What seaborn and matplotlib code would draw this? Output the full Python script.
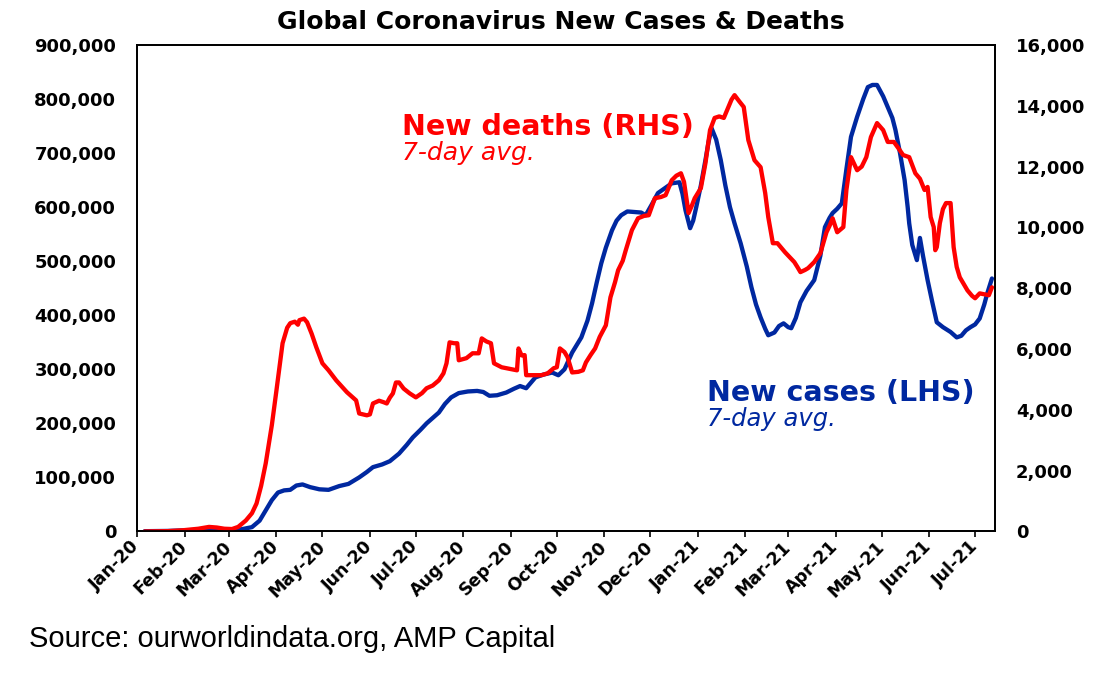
import matplotlib
matplotlib.use("Agg")
import matplotlib.pyplot as plt
import matplotlib.dates as mdates
import matplotlib.ticker as mticker
import numpy as np
import pandas as pd
import seaborn as sns

# ── Data ─────────────────────────────────────────────────────────────────────
# days counted from 1 Jan 2020, cases in thousands (7-day avg)
case_days = [5, 20, 35, 45, 50, 57, 62, 68, 75, 80, 84, 88, 92, 96, 100, 104,
             108, 113, 119, 125, 132, 138, 145, 150, 154, 160, 165, 171, 176,
             180, 185, 189, 193, 197, 201, 205, 210, 216, 222, 226, 230, 235,
             241, 246, 250, 254, 260, 265, 271, 275, 279, 284, 287, 290, 294,
             297, 300, 303, 306, 310, 313, 316, 320, 325, 329, 332, 336, 340,
             345, 349, 354, 356, 358, 361, 363, 365, 368, 371, 373, 375, 378,
             381, 384, 387, 390, 394, 398, 401, 404, 407, 410, 412, 416, 419,
             422, 425, 427, 430, 433, 437, 442, 446, 449, 452, 454, 457, 460,
             463, 466, 470, 474, 477, 480, 483, 487, 490, 493, 495, 498, 501,
             503, 504, 506, 509, 511, 513, 516, 519, 522, 526, 531, 535, 538,
             541, 544, 547, 550, 553, 555, 558]
case_k = [0.5, 1, 2.5, 3, 2, 1.5, 2, 4, 8, 20, 39, 58, 72, 76, 77, 85,
          87, 82, 78, 77, 84, 88, 100, 110, 119, 124, 130, 144, 160,
          174, 188, 200, 210, 220, 236, 248, 256, 259, 260, 258, 251, 252,
          257, 264, 269, 265, 285, 290, 294, 289, 300, 331, 345, 359, 390,
          422, 460, 496, 525, 557, 575, 585, 592, 591, 590, 585, 605, 626,
          636, 644, 646, 625, 594, 561, 575, 600, 640, 687, 720, 746, 725,
          687, 640, 600, 570, 533, 490, 452, 420, 396, 375, 363, 368, 380,
          385, 378, 376, 395, 424, 445, 465, 510, 563, 580, 589, 597, 607,
          670, 730, 767, 800, 822, 826, 826, 805, 785, 765, 743, 700, 650,
          600, 570, 530, 502, 543, 510, 465, 425, 387, 378, 369, 359, 362,
          372, 378, 383, 394, 420, 441, 468]

# deaths (7-day avg)
death_days = [5, 20, 30, 40, 47, 52, 57, 62, 66, 71, 75, 78, 81, 84, 88, 91,
              95, 98, 100, 103, 105, 106, 109, 111, 114, 117, 121, 125, 130,
              134, 137, 141, 143, 145, 150, 152, 154, 158, 161, 163, 165, 167,
              169, 171, 174, 178, 182, 186, 189, 193, 197, 200, 202, 204, 207,
              209, 210, 215, 219, 223, 225, 228, 231, 233, 238, 243, 248, 249,
              251, 253, 254, 259, 264, 268, 272, 274, 276, 279, 281, 284, 288,
              291, 293, 296, 299, 302, 306, 309, 312, 314, 317, 319, 323, 327,
              331, 334, 338, 342, 345, 349, 352, 355, 357, 360, 362, 364, 368,
              371, 374, 377, 380, 383, 386, 388, 390, 393, 396, 399, 403, 407,
              410, 412, 415, 418, 423, 429, 431, 433, 436, 438, 442, 446, 450,
              452, 454, 457, 461, 463, 466, 470, 473, 476, 479, 483, 487, 490,
              494, 497, 500, 504, 508, 511, 514, 516, 518, 520, 521, 522, 524,
              526, 528, 531, 533, 535, 537, 540, 542, 545, 547, 550, 553, 556,
              558]
deaths = [0, 10, 40, 90, 150, 130, 90, 80, 150, 360, 600, 920, 1500, 2240,
          3500, 4640, 6190, 6700, 6850, 6900, 6800, 6950, 7000, 6880, 6500,
          6060, 5530, 5300, 4970, 4750, 4580, 4400, 4310, 3880, 3820, 3850,
          4210, 4300, 4250, 4210, 4400, 4540, 4900, 4900, 4700, 4540, 4410,
          4550, 4710, 4800, 4970, 5200, 5530, 6220, 6190, 6190, 5630, 5700,
          5860, 5860, 6350, 6250, 6190, 5530, 5400, 5350, 5300, 6020, 5790,
          5800, 5140, 5140, 5140, 5200, 5370, 5400, 6020, 5900, 5730, 5230,
          5250, 5300, 5560, 5800, 6020, 6400, 6780, 7700, 8200, 8590, 8900,
          9250, 9910, 10300, 10380, 10400, 10960, 11000, 11060, 11550, 11700,
          11780, 11500, 10470, 10700, 10960, 11290, 12110, 13200, 13600,
          13650, 13600, 13960, 14200, 14350, 14150, 13960, 12870, 12210,
          11980, 11130, 10340, 9480, 9480, 9180, 8860, 8700, 8530, 8600,
          8660, 8860, 9150, 9840, 10050, 10300, 9840, 10010, 11230, 12310,
          11880, 12000, 12310, 12970, 13430, 13200, 12810, 12810, 12600,
          12380, 12310, 11780, 11600, 11230, 11330, 10340, 10010, 9250, 9350,
          10140, 10600, 10800, 10800, 9350, 8700, 8360, 8100, 7930, 7750,
          7670, 7830, 7800, 7770, 8030]

left_ticks = [0, 100000, 200000, 300000, 400000, 500000, 600000, 700000,
              800000, 900000]
right_ticks = [0, 2000, 4000, 6000, 8000, 10000, 12000, 14000, 16000]
month_ticks = pd.date_range("2020-01-01", "2021-07-01", freq="MS")

START = pd.Timestamp("2020-01-01")
END = pd.Timestamp("2021-07-14")

cases_df = pd.DataFrame({
    "date": START + pd.to_timedelta(case_days, unit="D"),
    "cases": np.array(case_k) * 1000,
})
deaths_df = pd.DataFrame({
    "date": START + pd.to_timedelta(death_days, unit="D"),
    "deaths": deaths,
})

RED = "#FF0000"
BLUE = "#0028A0"

# ── Plot ─────────────────────────────────────────────────────────────────────
sns.set_style("white")
plt.rcParams["font.family"] = ["DejaVu Sans"]
for key in ("text.color", "axes.labelcolor", "xtick.color", "ytick.color"):
    plt.rcParams[key] = "black"

fig = plt.figure(figsize=(10.98, 6.73), dpi=100)
ax = fig.add_axes([0.1248, 0.2103, 0.7814, 0.7229])
ax2 = ax.twinx()

sns.lineplot(data=cases_df, x="date", y="cases", ax=ax, color=BLUE,
             linewidth=3.1)
sns.lineplot(data=deaths_df, x="date", y="deaths", ax=ax2, color=RED,
             linewidth=3.1)

ax.set_xlim(START, END)
ax.set_ylim(0, 900000)
ax2.set_ylim(0, 16000)
ax.set_yticks(left_ticks)
ax2.set_yticks(right_ticks)
ax.yaxis.set_major_formatter(mticker.StrMethodFormatter("{x:,.0f}"))
ax2.yaxis.set_major_formatter(mticker.StrMethodFormatter("{x:,.0f}"))

ax.set_xticks(month_ticks)
ax.xaxis.set_major_formatter(mdates.DateFormatter("%b-%y"))

ax.set_xlabel("")
ax.set_ylabel("")
ax2.set_ylabel("")

ax.tick_params(axis="y", length=0, pad=15, labelsize=13)
ax2.tick_params(axis="y", length=0, pad=15, labelsize=13)
ax.tick_params(axis="x", direction="out", length=4, width=1.2, pad=5,
               labelsize=12.5, bottom=True)
for lab in ax.get_yticklabels() + ax2.get_yticklabels():
    lab.set_fontweight("bold")
for lab in ax.get_xticklabels():
    lab.set_fontweight("bold")
    lab.set_rotation(45)
    lab.set_ha("right")
    lab.set_va("center")
    lab.set_rotation_mode("anchor")

for a in (ax, ax2):
    for sp in a.spines.values():
        sp.set_visible(True)
        sp.set_color("black")
        sp.set_linewidth(1.3)
ax.grid(False)
ax2.grid(False)

# ── Text ─────────────────────────────────────────────────────────────────────
fig.text(0.511, 1 - 29 / 673, "Global Coronavirus New Cases & Deaths",
         ha="center", va="baseline", fontsize=18, fontweight="bold")

fig.text(402 / 1098, 1 - 135 / 673, "New deaths (RHS)", color=RED,
         fontsize=20.5, fontweight="bold", va="baseline")
fig.text(402 / 1098, 1 - 160 / 673, "7-day avg.", color=RED,
         fontsize=18, style="italic", va="baseline")

fig.text(707 / 1098, 1 - 401 / 673, "New cases (LHS)", color=BLUE,
         fontsize=20.5, fontweight="bold", va="baseline")
fig.text(707 / 1098, 1 - 426 / 673, "7-day avg.", color=BLUE,
         fontsize=17.5, style="italic", va="baseline")

fig.text(29 / 1098, 1 - 647 / 673, "Source: ourworldindata.org, AMP Capital",
         fontsize=21, family=["Liberation Sans", "DejaVu Sans"],
         va="baseline")

fig.savefig("out.png", dpi=100)
